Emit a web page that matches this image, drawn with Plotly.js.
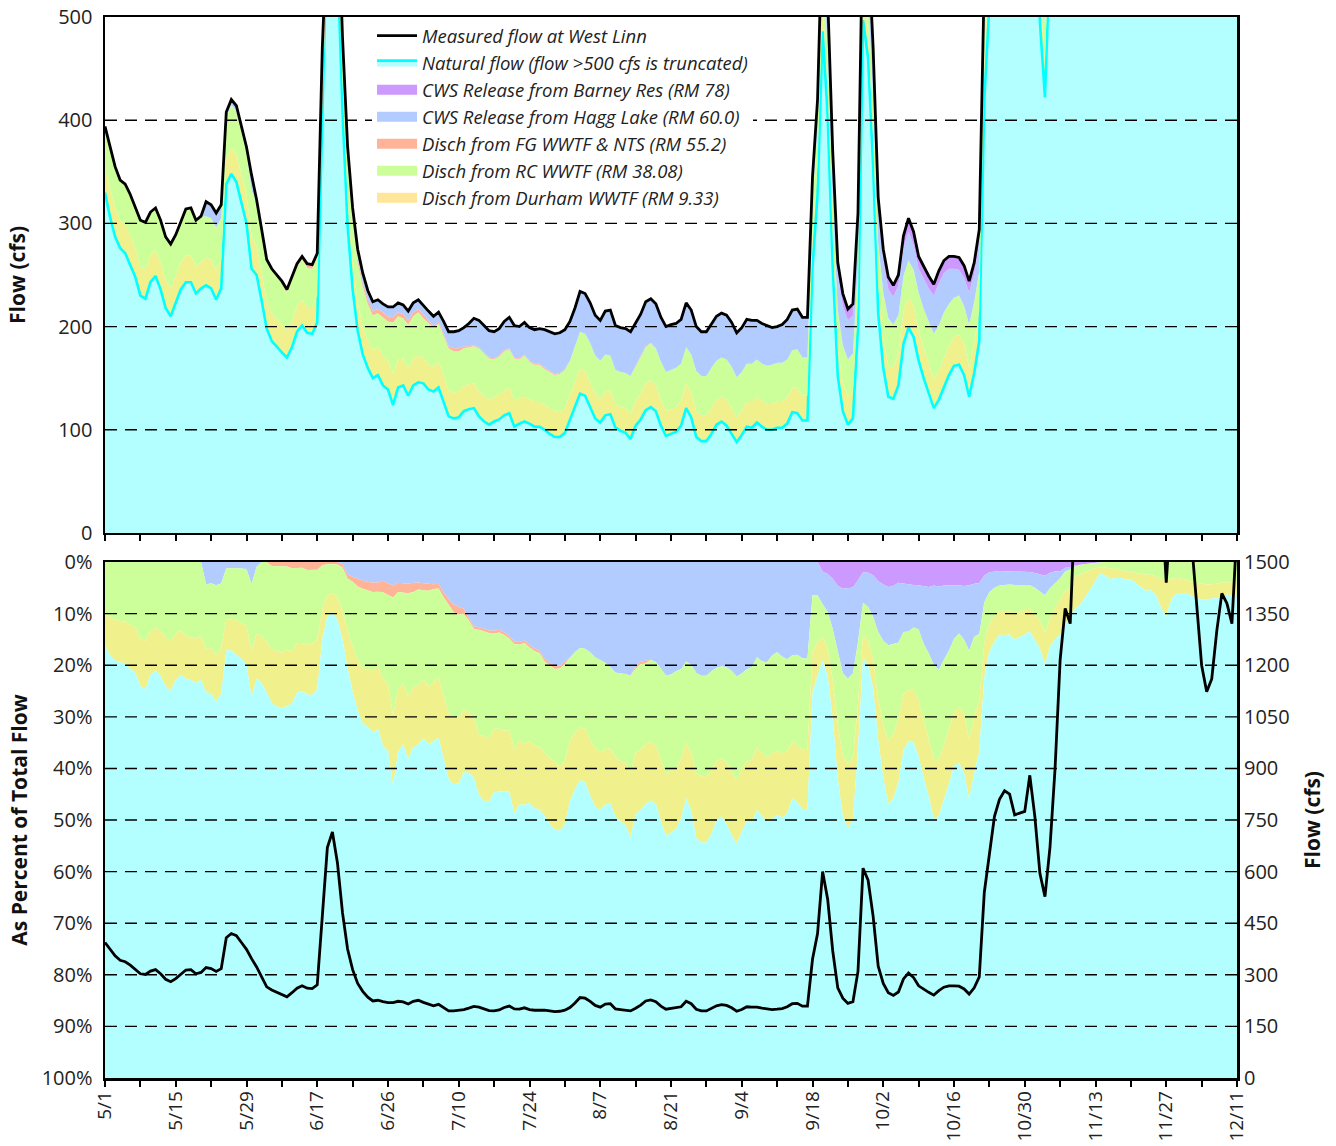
<!DOCTYPE html>
<html><head><meta charset="utf-8">
<script src="https://cdn.plot.ly/plotly-3.0.1.min.js"></script>
<style>html,body{margin:0;padding:0;background:#fff}#chart{width:1336px;height:1146px}</style>
</head><body><div id="chart"></div>
<script>
// Daily values, 5/1 .. 12/11 (225 days), in cfs
const startDate = [2003, 4, 1];
const tickLabels = ['5/1','5/15','5/29','6/17','6/26','7/10','7/24','8/7','8/21','9/4','9/18','10/2','10/16','10/30','11/13','11/27','12/11'];
const pctTickLabels = ['0%','10%','20%','30%','40%','50%','60%','70%','80%','90%','100%'];

const measured = [
394,374,355,342,338,328,316,303,301,311, 315,303,287,280,289,302,314,315,303,307,
321,318,310,318,408,420,414,394,374,347, 323,294,265,256,250,244,236,248,261,268,
261,260,271,470,670,715,625,480,375,315, 275,252,235,224,226,222,219,219,223,221,
215,223,226,220,215,210,214,205,195,195, 196,199,203,208,206,201,196,195,198,205,
209,201,200,204,199,197,198,197,195,193, 194,197,205,218,234,232,223,211,206,215,
216,201,199,198,195,203,212,224,227,222, 209,200,202,203,207,223,216,200,195,195,
203,210,213,211,204,194,199,207,206,206, 203,201,199,200,202,207,216,217,209,209,
345,420,600,520,370,262,232,217,222,310, 610,575,470,325,275,248,240,250,288,305,
292,268,258,249,241,254,264,268,268,267, 259,244,262,294,540,650,760,810,835,825,
765,770,775,880,760,595,527,672,900,1215, 1365,1321,1600,1900,2300,2800,3500,4200,4000,3700,
3600,3500,3300,3200,3000,2700,2500,2400,2200,1700, 1440,1700,1900,2000,1950,1560,1391,1200,1123,1160,
1300,1409,1380,1321,1600];

const natural = [
330,306,287,276,271,260,248,230,227,243, 249,236,218,210,223,236,243,243,232,237,
240,237,226,237,338,348,340,320,300,256, 250,225,198,186,180,175,170,180,195,201,
194,193,204,400,600,645,555,408,298,236, 196,173,160,150,153,143,139,124,141,143,
133,143,146,145,139,137,141,127,113,111, 112,118,120,121,113,108,105,108,110,114,
116,103,106,108,106,103,103,100,96,93, 93,97,110,122,135,133,122,111,107,114,
115,102,99,97,91,104,110,119,122,118, 104,94,96,98,104,121,112,93,89,89,
96,105,108,104,96,88,95,103,102,107, 103,100,100,102,102,106,117,116,109,109,
258,328,486,405,258,152,118,105,111,198, 497,460,355,213,160,132,130,143,183,199,
190,167,150,136,121,129,142,153,162,163, 153,132,155,186,420,537,643,696,717,709,
650,658,666,762,646,495,422,562,765,1044, 1200,1182,1458,1744,2144,2652,3374,4108,3892,3578,
3488,3392,3188,3091,2877,2568,2360,2270,2057,1547, 1289,1576,1786,1880,1833,1459,1293,1114,1041,1078,
1209,1316,1293,1235,1494];

const durhamWwtf = [
24,28,28,27,28,28,28,28,28,26, 26,26,27,27,26,26,26,26,26,26,
27,28,28,28,25,25,27,27,28,31, 28,27,26,27,27,26,26,25,25,25,
25,26,26,27,27,27,27,27,27,27, 27,27,26,27,27,29,28,30,27,26,
26,26,26,25,24,24,25,25,25,25, 25,24,24,24,24,25,24,24,24,24,
25,25,25,24,24,24,24,24,25,25, 24,24,24,24,24,24,24,24,23,23,
23,23,23,24,24,24,25,26,26,25, 25,24,24,24,24,24,24,25,25,25,
25,24,24,25,25,24,24,24,25,25, 25,25,25,25,25,25,24,24,24,24,
27,27,27,27,27,27,27,27,27,27, 27,27,27,26,28,30,30,31,31,30,
30,29,29,28,28,28,28,28,28,29, 30,28,29,29,36,35,37,37,39,38,
39,38,36,39,38,32,33,36,54,83, 90,70,98,110,113,106,84,50,64,78,
61,52,53,45,57,69,80,70,81,97, 99,68,55,56,49,42,42,36,33,32,
36,37,33,34,43];

const rcWwtf = [
40,40,40,39,39,40,40,45,46,42, 40,41,42,43,40,40,45,46,45,44,
40,40,42,40,40,42,42,42,41,45, 42,42,41,41,41,41,38,40,38,39,
38,37,37,40,40,40,40,40,38,40, 39,39,36,34,33,37,38,50,42,39,
43,41,42,38,40,38,37,39,41,40, 39,37,36,36,42,41,40,36,37,38,
37,41,37,40,36,36,36,35,35,35, 37,37,33,34,36,36,38,37,37,36,
34,33,34,34,37,33,35,35,36,36, 37,38,38,38,36,35,37,39,38,38,
39,38,38,39,40,39,37,37,37,36, 36,37,38,38,38,37,36,38,37,37,
38,38,38,38,37,37,37,36,36,37, 38,38,38,42,45,46,42,37,35,35,
35,37,38,41,44,44,44,41,38,38, 37,42,40,38,42,40,42,40,42,42,
42,40,38,40,38,34,38,40,45,50, 50,50,32,36,35,34,35,42,44,44,
50,56,59,64,66,63,60,60,62,56, 52,56,59,64,68,59,56,50,49,50,
55,56,54,52,62];

const fgWwtf = [
0,0,0,0,0,0,0,0,0,0, 0,0,0,0,0,0,0,0,0,0,
0,0,0,0,0,0,0,0,0,0, 0,0,0,2,2,2,2,3,3,3,
4,4,4,3,3,3,3,3,3,3, 4,4,4,4,4,5,5,5,4,4,
4,4,3,3,3,2,2,2,2,3, 3,2,1,1,1,1,1,1,1,1,
1,1,1,1,1,1,1,1,1,1, 1,1,0,0,0,0,0,0,0,0,
0,0,0,0,0,1,1,1,0,0, 0,0,0,0,0,0,0,0,0,0,
0,0,0,0,0,0,0,0,0,0, 0,0,0,0,0,0,0,0,0,0,
0,0,0,0,0,0,0,0,0,0, 0,0,0,0,0,0,0,0,0,0,
0,0,0,0,0,0,0,0,0,0, 0,0,0,0,0,0,0,0,0,0,
0,0,0,0,0,0,0,0,0,0, 0,0,0,0,0,0,0,0,0,0,
0,0,0,0,0,0,0,0,0,0, 0,0,0,0,0,0,0,0,0,0,
0,0,0,0,0];

const haggLake = [
0,0,0,0,0,0,0,0,0,0, 0,0,0,0,0,0,0,0,0,0,
14,13,14,13,5,5,5,5,5,15, 3,0,0,0,0,0,0,0,0,0,
0,0,0,0,0,0,0,2,9,9, 9,9,9,9,9,8,9,10,9,9,
9,9,9,9,9,9,9,12,14,16, 17,18,22,26,26,26,26,26,26,28,
30,31,31,31,32,33,34,37,38,39, 39,38,38,38,39,39,39,39,39,42,
44,43,43,43,43,41,41,43,43,43, 43,44,44,43,43,43,43,43,43,43,
43,43,43,43,43,43,43,43,42,38, 39,39,36,35,37,39,39,39,39,39,
22,27,38,38,36,34,38,38,37,37, 36,38,38,32,30,28,27,29,27,28,
24,23,29,32,37,41,38,34,28,25, 27,31,27,29,28,25,24,23,22,21,
20,20,20,22,22,20,20,20,20,16, 10,5,3,0,0,0,0,0,0,0,
0,0,0,0,0,0,0,0,0,0, 0,0,0,0,0,0,0,0,0,0,
0,0,0,0,0];

const barneyRes = [
0,0,0,0,0,0,0,0,0,0, 0,0,0,0,0,0,0,0,0,0,
0,0,0,0,0,0,0,0,0,0, 0,0,0,0,0,0,0,0,0,0,
0,0,0,0,0,0,0,0,0,0, 0,0,0,0,0,0,0,0,0,0,
0,0,0,0,0,0,0,0,0,0, 0,0,0,0,0,0,0,0,0,0,
0,0,0,0,0,0,0,0,0,0, 0,0,0,0,0,0,0,0,0,0,
0,0,0,0,0,0,0,0,0,0, 0,0,0,0,0,0,0,0,0,0,
0,0,0,0,0,0,0,0,0,0, 0,0,0,0,0,0,0,0,0,0,
0,0,11,12,12,12,12,11,11,11, 12,12,12,12,12,12,11,10,12,13,
13,12,12,12,11,12,12,12,12,12, 12,11,11,12,14,13,14,14,15,15,
14,14,15,17,16,14,14,14,16,22, 15,14,10,10,9,8,7,0,0,0,
0,0,0,0,0,0,0,0,0,0, 0,0,0,0,0,0,0,0,0,0,
0,0,0,0,0];

const names = {
  measured: 'Measured flow at West Linn',
  natural: 'Natural flow (flow >500 cfs is truncated)',
  barney: 'CWS Release from Barney Res (RM 78)',
  hagg: 'CWS Release from Hagg Lake (RM 60.0)',
  fg: 'Disch from FG WWTF &amp; NTS (RM 55.2)',
  rc: 'Disch from RC WWTF (RM 38.08)',
  durham: 'Disch from Durham WWTF (RM 9.33)'
};
const col = {
  naturalFill: '#b3ffff', naturalLine: '#00ffff', barney: '#cc99ff', hagg: '#b3ccff',
  fg: '#ffb399', rc: '#ccff99', durham: '#f0f08c', durhamKey: '#ffe699'
};

// x categories (dates)
const dates = [];
const t0 = Date.UTC(startDate[0], startDate[1], startDate[2]);
for (let i = 0; i < measured.length; i++) {
  dates.push(new Date(t0 + i * 86400000).toISOString().slice(0, 10));
}
const tickvals = [], ticktext = [];
for (let i = 0; i * 7 < dates.length; i++) {
  tickvals.push(dates[i * 7]);
  ticktext.push(i % 2 === 0 ? tickLabels[i / 2] : '');
}

function area(y, name, fill, xa, ya, sg, extra) {
  return Object.assign({
    type: 'scatter', mode: 'lines', x: dates, y: y, name: name,
    xaxis: xa, yaxis: ya, stackgroup: sg, fillcolor: fill,
    line: {width: 0, color: fill}, showlegend: false, hoverinfo: 'skip'
  }, extra || {});
}
// legend-only key swatches (no data)
function key(name, color, rank) {
  return {type: 'scatter', mode: 'lines', x: [dates[0]], y: [null], name: name,
          xaxis: 'x', yaxis: 'y', line: {color: color, width: 13}, legendrank: rank, hoverinfo: 'skip'};
}

const traces = [
  // top panel: stacked flows (cfs)
  area(natural, names.natural, col.naturalFill, 'x', 'y', 'top',
       {line: {width: 2.6, color: col.naturalLine}, showlegend: true, legendrank: 2}),
  area(durhamWwtf, names.durham, col.durham, 'x', 'y', 'top'),
  area(rcWwtf, names.rc, col.rc, 'x', 'y', 'top'),
  area(fgWwtf, names.fg, col.fg, 'x', 'y', 'top'),
  area(haggLake, names.hagg, col.hagg, 'x', 'y', 'top'),
  area(barneyRes, names.barney, col.barney, 'x', 'y', 'top'),
  {type: 'scatter', mode: 'lines', x: dates, y: measured, name: names.measured,
   xaxis: 'x', yaxis: 'y', line: {color: '#000', width: 2.8}, legendrank: 1, hoverinfo: 'skip'},
  key(names.barney, col.barney, 3),
  key(names.hagg, col.hagg, 4),
  key(names.fg, col.fg, 5),
  key(names.rc, col.rc, 6),
  key(names.durham, col.durhamKey, 7),
  // bottom panel: percent of total flow
  area(barneyRes, names.barney, col.barney, 'x2', 'y2', 'pct', {groupnorm: 'percent'}),
  area(haggLake, names.hagg, col.hagg, 'x2', 'y2', 'pct', {groupnorm: 'percent'}),
  area(fgWwtf, names.fg, col.fg, 'x2', 'y2', 'pct', {groupnorm: 'percent'}),
  area(rcWwtf, names.rc, col.rc, 'x2', 'y2', 'pct', {groupnorm: 'percent'}),
  area(durhamWwtf, names.durham, col.durham, 'x2', 'y2', 'pct', {groupnorm: 'percent'}),
  area(natural, names.natural, col.naturalFill, 'x2', 'y2', 'pct', {groupnorm: 'percent'}),
  {type: 'scatter', mode: 'lines', x: dates, y: measured, name: names.measured, showlegend: false,
   xaxis: 'x2', yaxis: 'y3', line: {color: '#000', width: 2.8}, hoverinfo: 'skip'}
];

const grid = {color: '#000', width: 1.4, dash: '12px,8px'};
const shapes = [];
[100, 200, 300, 400].forEach(v => shapes.push({type: 'line', xref: 'x domain', yref: 'y', x0: 0, x1: 1, y0: v, y1: v, line: grid, layer: 'above'}));
[10, 20, 30, 40, 50, 60, 70, 80, 90].forEach(v => shapes.push({type: 'line', xref: 'x2 domain', yref: 'y2', x0: 0, x1: 1, y0: v, y1: v, line: grid, layer: 'above'}));

const axLine = {showline: true, linecolor: '#000', linewidth: 2.5, mirror: true, showgrid: false, zeroline: false};
const xBase = Object.assign({}, axLine, {
  type: 'date', range: [dates[0], dates[dates.length - 1]], tickmode: 'array',
  tickvals: tickvals, ticks: 'outside', ticklen: 6, tickwidth: 2, tickcolor: '#000'
});

const layout = {
  width: 1336, height: 1146,
  margin: {l: 105, r: 99, t: 17, b: 68},
  paper_bgcolor: '#fff', plot_bgcolor: '#fff',
  font: {family: '"Open Sans", "Noto Sans", sans-serif', size: 20, color: '#222'},
  showlegend: true,
  legend: {x: 0.2359, y: 1.0, xanchor: 'left', yanchor: 'top', bgcolor: '#fff', borderwidth: 0,
           traceorder: 'normal', itemwidth: 40,
           font: {size: 18.5, style: 'italic', color: '#222'}},
  xaxis: Object.assign({}, xBase, {domain: [0, 1], anchor: 'y', showticklabels: false}),
  xaxis2: Object.assign({}, xBase, {domain: [0, 1], anchor: 'y2', ticktext: ticktext, tickangle: -90,
                                     ticklabelstandoff: -3, tickfont: {size: 19, color: '#222'}}),
  yaxis: Object.assign({}, axLine, {domain: [0.5137, 1], anchor: 'x', range: [0, 500],
           tickvals: [0, 100, 200, 300, 400, 500], ticks: '', ticklabelstandoff: 6,
           title: {text: '<b>Flow (cfs)</b>', font: {size: 21, color: '#111'}, standoff: 27}}),
  yaxis2: Object.assign({}, axLine, {domain: [0, 0.4863], anchor: 'x2', range: [100, 0],
           tickmode: 'array', tickvals: [0, 10, 20, 30, 40, 50, 60, 70, 80, 90, 100], ticktext: pctTickLabels,
           ticks: '', ticklabelstandoff: 6,
           title: {text: '<b>As Percent of Total Flow</b>', font: {size: 21, color: '#111'}, standoff: 9}}),
  yaxis3: {overlaying: 'y2', anchor: 'x2', side: 'right', range: [0, 1500],
           tickvals: [0, 150, 300, 450, 600, 750, 900, 1050, 1200, 1350, 1500],
           showgrid: false, zeroline: false, showline: false, ticks: '', ticklabelstandoff: 6,
           title: {text: '<b>Flow (cfs)</b>', font: {size: 21, color: '#111'}, standoff: 16}},
  shapes: shapes
};

Plotly.newPlot('chart', traces, layout, {displayModeBar: false, staticPlot: true});
</script>
</body></html>
